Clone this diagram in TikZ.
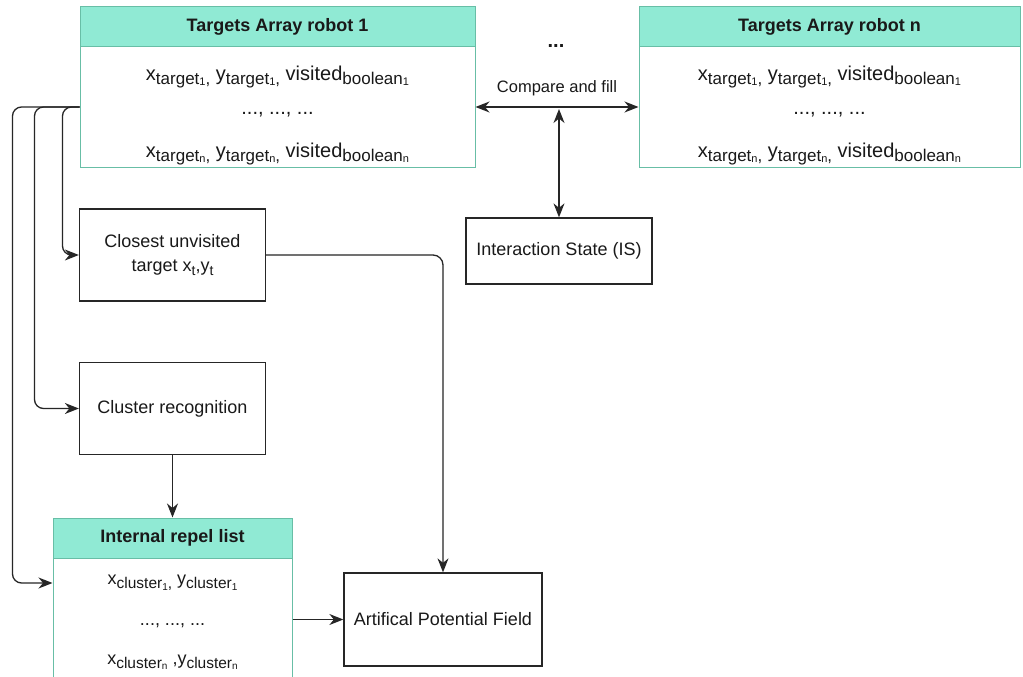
\documentclass[tikz,border=0pt]{standalone}
\usepackage{fontspec}
\setmainfont{Liberation Sans}
\usetikzlibrary{arrows.meta,calc}
\definecolor{hdrfill}{RGB}{144,234,212}
\definecolor{hdrline}{RGB}{104,190,166}
\definecolor{txt}{RGB}{25,25,25}
% subscript and nested subscript with explicit sizes
\newcommand\sba[1]{\raisebox{-4.5pt}{\fontsize{17}{19}\selectfont #1}}
\newcommand\sbb[1]{\raisebox{-1pt}{\fontsize{11}{12}\selectfont #1}}
\newcommand\sca[1]{\raisebox{-4pt}{\fontsize{15.5}{17}\selectfont #1}}
\newcommand\scb[1]{\raisebox{-1.5pt}{\fontsize{10}{11}\selectfont #1}}
\newcommand\sbt[1]{\raisebox{-4pt}{\fontsize{14}{15}\selectfont #1}}
\begin{document}
\begin{tikzpicture}[x=1pt,y=-1pt,
  every node/.style={text=txt,font=\fontsize{18}{21}\selectfont,inner sep=0pt},
  rowtxt/.style={font=\fontsize{20}{22}\selectfont},
  irtxt/.style={font=\fontsize{18}{20}\selectfont},
  hdr/.style={draw=hdrline,fill=hdrfill,line width=1pt,font=\fontsize{18}{21}\selectfont\bfseries},
  tbody/.style={draw=hdrline,line width=1pt},
  blk/.style={draw=black!85,line width=1.3pt,align=center},
  tip/.tip={Stealth[length=14pt,width=11pt,inset=4.5pt]},
  conn/.style={draw=black!85,line width=1.3pt,-tip},
  both/.style={draw=black!85,line width=1.3pt,tip-tip}]
\clip (0,0) rectangle (1023,677);
\fill[white] (0,0) rectangle (1023,677);

% targets array of robot 1
\node[hdr,minimum width=395pt,minimum height=40pt] (tAh) at (277.5,27) {Targets Array robot 1};
\node[tbody,minimum width=395pt,minimum height=120pt] (tAb) at (277.5,107) {};
\node[rowtxt] (tA1) at (277.5,77) {x\sba{target\sbb{1},} y\sba{target\sbb{1},} visited\sba{boolean\sbb{1}}};
\node[rowtxt] (tAd) at (277.5,115) {..., ..., ...};
\node[rowtxt] (tAn) at (277.5,154) {x\sba{target\sbb{n},} y\sba{target\sbb{n},} visited\sba{boolean\sbb{n}}};

% targets array of robot n
\node[hdr,minimum width=381pt,minimum height=40pt] (tNh) at (829.5,27) {Targets Array robot n};
\node[tbody,minimum width=381pt,minimum height=120pt] (tNb) at (829.5,107) {};
\node[rowtxt] (tN1) at (829.5,77) {x\sba{target\sbb{1},} y\sba{target\sbb{1},} visited\sba{boolean\sbb{1}}};
\node[rowtxt] (tNd) at (829.5,115) {..., ..., ...};
\node[rowtxt] (tNn) at (829.5,154) {x\sba{target\sbb{n},} y\sba{target\sbb{n},} visited\sba{boolean\sbb{n}}};

\node[font=\fontsize{20}{22}\selectfont\bfseries] (more) at (556,46) {...};

% processing blocks
\node[blk,minimum width=186pt,minimum height=92pt] (clo) at (172.5,255) {Closest unvisited\\[3pt] target x\sbt{t},y\sbt{t}};
\node[blk,minimum width=186pt,minimum height=92pt] (clu) at (172.5,408.5) {Cluster recognition};
\node[blk,minimum width=186pt,minimum height=66pt] (is) at (559,251) {Interaction State (IS)};
\node[blk,minimum width=198pt,minimum height=93pt] (apf) at (443,619.5) {Artifical Potential Field};

% internal repel list
\node[hdr,minimum width=239pt,minimum height=40pt] (irh) at (172.5,538) {Internal repel list};
\node[tbody,minimum width=239pt,minimum height=140pt] (irb) at (172.5,628) {};
\node[irtxt] (ir1) at (172.5,583) {x\sca{cluster\scb{1},} y\sca{cluster\scb{1}}};
\node[irtxt] (ird) at (172.5,626) {..., ..., ...};
\node[irtxt] (irn) at (172.5,662) {x\sca{cluster\scb{n}} ,y\sca{cluster\scb{n}}};

% connectors
\draw[both] (tAb.east) -- node[above=10pt,font=\fontsize{16.5}{18}\selectfont] (cmp) {Compare and fill} (tNb.west);
\coordinate (mid) at ($(tAb.east -| is.north)+(0,2)$);
\draw[both] (mid) -- (is.north);

\draw[conn,rounded corners=9pt] (tAb.west) -- ++(-17,0) |- (clo.west);
\draw[conn,rounded corners=9pt] (tAb.west) -- ++(-45,0) |- (clu.west);
\draw[conn,rounded corners=9pt] (tAb.west) -- ++(-67,0) |- (ir1.west -| irb.west);

\draw[conn,rounded corners=10pt] (clo.east) -| (apf.north);
\draw[conn] (clu.south) -- (irh.north);
\draw[conn] (apf.west -| irb.east) -- (apf.west);
\end{tikzpicture}
\end{document}
